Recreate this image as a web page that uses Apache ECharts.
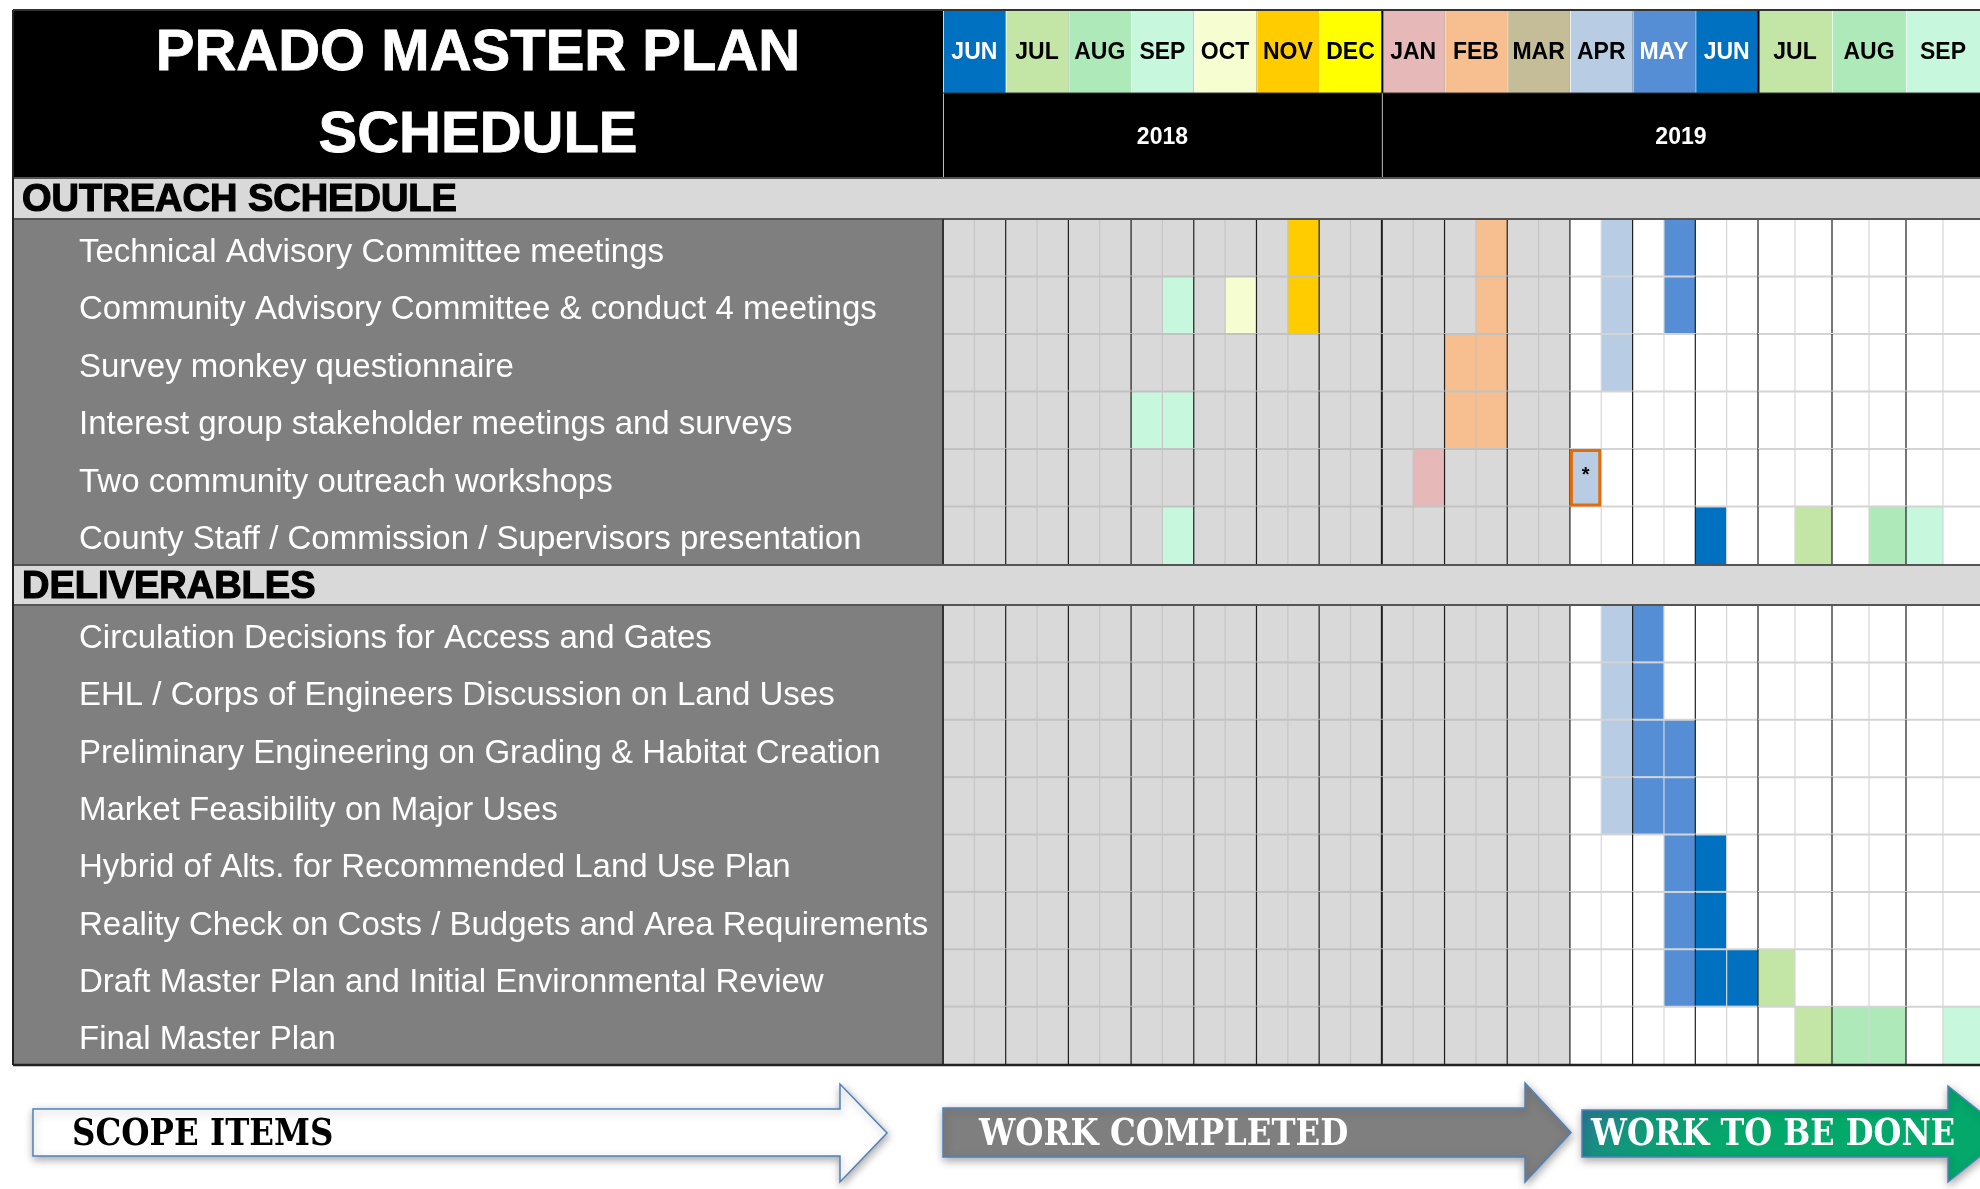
<!DOCTYPE html>
<html><head><meta charset="utf-8">
<script src="https://cdn.jsdelivr.net/npm/echarts@6/dist/echarts.min.js"></script>
<style>html,body{margin:0;padding:0;background:#fff}#c{width:1980px;height:1189px}</style>
</head><body><div id="c"></div>
<script>
// ---------------- DATA ----------------
const titleLines = ['PRADO MASTER PLAN', 'SCHEDULE'];
const months = ['JUN','JUL','AUG','SEP','OCT','NOV','DEC','JAN','FEB','MAR','APR','MAY','JUN','JUL','AUG','SEP'];
const monthYears = [2018,2018,2018,2018,2018,2018,2018,2019,2019,2019,2019,2019,2019,2019,2019,2019];
const years = [2018, 2019];
const sectionNames = ['OUTREACH SCHEDULE', 'DELIVERABLES'];
const outreachTasks = [
  'Technical Advisory Committee meetings',
  'Community Advisory Committee & conduct 4 meetings',
  'Survey monkey questionnaire',
  'Interest group stakeholder meetings and surveys',
  'Two community outreach workshops',
  'County Staff / Commission / Supervisors presentation'
];
const deliverableTasks = [
  'Circulation Decisions for Access and Gates',
  'EHL / Corps of Engineers Discussion on Land Uses',
  'Preliminary Engineering on Grading & Habitat Creation',
  'Market Feasibility on Major Uses',
  'Hybrid of Alts. for Recommended Land Use Plan',
  'Reality Check on Costs / Budgets and Area Requirements',
  'Draft Master Plan and Initial Environmental Review',
  'Final Master Plan'
];
// half-month slots: slot 0 = first half of JUN 2018, slot 1 = second half, ...
const outreachSlots = [
  [11, 17, 21, 23],
  [7, 9, 11, 17, 21, 23],
  [16, 17, 21],
  [6, 7, 16, 17],
  [15, 20],
  [7, 24, 27, 29, 30]
];
const deliverableSlots = [
  [21, 22],
  [21, 22],
  [21, 22, 23],
  [21, 22, 23],
  [23, 24],
  [23, 24],
  [23, 24, 25, 26],
  [27, 28, 29, 31]
];
const markedSection = [0];
const markedRow = [4];
const markedSlot = [20];
const markedText = ['*'];
const completedMonths = 10; // JUN 2018 .. MAR 2019 are completed
const arrowLabels = ['SCOPE ITEMS', 'WORK COMPLETED', 'WORK TO BE DONE'];

// ---------------- STYLE ----------------
const monthColors = ['#0070c0','#c3e5a5','#aeeab9','#c7f7dd','#f6fdd0','#ffcc00','#ffff00',
  '#e6b8b8','#f7bf8f','#c4bd97','#b8cce4','#558ed5','#0070c0','#c3e5a5','#aeeab9','#c7f7dd'];
const monthTextColors = months.map((m, i) => (i === 0 || i === 11 || i === 12) ? '#ffffff' : '#000000');

function hasFont(name) {
  const ctx = document.createElement('canvas').getContext('2d');
  const s = 'abcdefghijklmnopqrstuvwxyz ABCDEFGHIJKLM 0123';
  ctx.font = '40px monospace'; const a = ctx.measureText(s).width;
  ctx.font = "40px '" + name + "', monospace"; const b = ctx.measureText(s).width;
  return Math.abs(a - b) > 0.5;
}
const narrow = hasFont('Liberation Sans Narrow');
const labelFont = narrow ? "'Liberation Sans Narrow'" : "'Liberation Sans', Arial";
const labelSize = narrow ? 39 : 33;
const monthFont = narrow ? "'Liberation Sans Narrow'" : "'Liberation Sans', Arial";
const monthSize = narrow ? 26 : 23;

// ---------------- LAYOUT ----------------
const X0 = 943, XS = 1758, XE = 1980, LX = 13;
const LEFT_MONTHS = 13;
const LEFT_SLOTS = LEFT_MONTHS * 2;
const TOTAL_SLOTS = months.length * 2;
const HEAD_TOP = 10, MONTH_H = 83, HEAD_BOT = 177;
const OUT_TOP = 219, OUT_H = 345, DEL_TOP = 605, DEL_H = 459;
const LABEL_SHIFT = 5;

const slotNames = months.flatMap((m, i) => [m + ' ' + monthYears[i] + ' a', m + ' ' + monthYears[i] + ' b']);

const chart = echarts.init(document.getElementById('c'));

function cellRect(api) {
  const c = api.coord([api.value(0), api.value(1)]);
  const s = api.size([1, 1]);
  return { x: c[0] - s[0] / 2, y: c[1] - s[1] / 2, width: s[0], height: s[1] };
}

const grids = [
  { left: X0, top: HEAD_TOP, width: XS - X0, height: MONTH_H },
  { left: XS, top: HEAD_TOP, width: XE - XS, height: MONTH_H },
  { left: X0, top: OUT_TOP, width: XS - X0, height: OUT_H },
  { left: XS, top: OUT_TOP, width: XE - XS, height: OUT_H },
  { left: X0, top: DEL_TOP, width: XS - X0, height: DEL_H },
  { left: XS, top: DEL_TOP, width: XE - XS, height: DEL_H },
  // label grids (task names)
  { left: X0, top: OUT_TOP + LABEL_SHIFT, width: 10, height: OUT_H },
  { left: X0, top: DEL_TOP + LABEL_SHIFT, width: 10, height: DEL_H }
].map(g => Object.assign({ outerBoundsMode: 'none', containLabel: false }, g));

const xAxes = [
  { data: months.slice(0, LEFT_MONTHS) },
  { data: months.slice(LEFT_MONTHS) },
  { data: slotNames.slice(0, LEFT_SLOTS) },
  { data: slotNames.slice(LEFT_SLOTS) },
  { data: slotNames.slice(0, LEFT_SLOTS) },
  { data: slotNames.slice(LEFT_SLOTS) },
  { data: ['label'] },
  { data: ['label'] }
].map((a, i) => Object.assign({ gridIndex: i, type: 'category', show: false }, a));

const rowAxis = (tasks) => ({ type: 'category', data: tasks, inverse: true, show: false });
const labelAxis = (tasks) => ({
  type: 'category', data: tasks, inverse: true, z: 20,
  axisLine: { show: false }, axisTick: { show: false }, splitLine: { show: false },
  axisLabel: { color: '#ffffff', fontSize: labelSize, fontFamily: labelFont,
    align: 'left', margin: X0 - 79 }
});
const yAxes = [
  { type: 'category', data: ['month'], show: false },
  { type: 'category', data: ['month'], show: false },
  rowAxis(outreachTasks),
  rowAxis(outreachTasks),
  rowAxis(deliverableTasks),
  rowAxis(deliverableTasks),
  labelAxis(outreachTasks),
  labelAxis(deliverableTasks)
].map((a, i) => Object.assign({ gridIndex: i }, a));

const series = [];

// header month cells
[[0, 0, LEFT_MONTHS], [1, LEFT_MONTHS, months.length]].forEach(([gi, from, to]) => {
  const data = [];
  for (let g = from; g < to; g++) data.push([g - from, 0, g]);
  series.push({
    type: 'custom', xAxisIndex: gi, yAxisIndex: gi, z: 5, encode: { x: 0, y: 1 }, data,
    renderItem(params, api) {
      const g = api.value(2); const r = cellRect(api);
      const yearStart = g > 0 && (monthYears[g] !== monthYears[g - 1] || g === LEFT_MONTHS);
      return { type: 'group', children: [
        { type: 'rect', shape: r, style: { fill: monthColors[g] } },
        { type: 'line', shape: { x1: r.x + 0.5, y1: r.y, x2: r.x + 0.5, y2: r.y + r.height },
          style: { stroke: yearStart ? '#000' : 'rgba(255,255,255,0.75)', lineWidth: yearStart ? 2 : 1 } },
        { type: 'text', style: { text: months[g], x: r.x + r.width / 2, y: r.y + r.height / 2 + 1,
          align: 'center', verticalAlign: 'middle', fill: monthTextColors[g],
          font: 'bold ' + monthSize + 'px ' + monthFont } }
      ] };
    }
  });
});

// body cells
function bodySeries(gi, tasks, slotsArr, sectionIdx, from, to) {
  const bg = [], fills = [], marks = [];
  for (let r = 0; r < tasks.length; r++) for (let s = from; s < to; s++) bg.push([s - from, r, s]);
  slotsArr.forEach((arr, r) => arr.forEach(s => { if (s >= from && s < to) fills.push([s - from, r, s]); }));
  markedSection.forEach((sec, k) => {
    if (sec === sectionIdx && markedSlot[k] >= from && markedSlot[k] < to)
      marks.push([markedSlot[k] - from, markedRow[k], markedSlot[k], k]);
  });
  series.push({
    type: 'custom', xAxisIndex: gi, yAxisIndex: gi, z: 3, encode: { x: 0, y: 1 }, data: bg,
    renderItem(params, api) {
      const s = api.value(2); const r = cellRect(api);
      return { type: 'rect', shape: r, style: { fill: Math.floor(s / 2) < completedMonths ? '#d9d9d9' : '#ffffff' } };
    }
  });
  series.push({
    type: 'custom', xAxisIndex: gi, yAxisIndex: gi, z: 4, encode: { x: 0, y: 1 }, data: fills,
    renderItem(params, api) {
      const s = api.value(2); const r = cellRect(api);
      return { type: 'rect', shape: r, style: { fill: monthColors[Math.floor(s / 2)] } };
    }
  });
  series.push({
    type: 'custom', xAxisIndex: gi, yAxisIndex: gi, z: 6, encode: { x: 0, y: 1 }, data: bg,
    renderItem(params, api) {
      const s = api.value(2); const row = api.value(1); const r = cellRect(api);
      const done = Math.floor(s / 2) < completedMonths;
      const ch = [];
      if (row > 0) ch.push({ type: 'line', shape: { x1: r.x, y1: r.y, x2: r.x + r.width, y2: r.y },
        style: { stroke: done ? '#c2c2c2' : '#d4d4d4', lineWidth: 2 } });
      const monthEdge = s % 2 === 0;
      const yearEdge = monthEdge && s > 0 && monthYears[s / 2] !== monthYears[s / 2 - 1];
      ch.push({ type: 'line', shape: { x1: r.x, y1: r.y, x2: r.x, y2: r.y + r.height },
        style: { stroke: monthEdge ? '#1e1e1e' : (done ? '#c4c4c4' : '#d6d6d6'), lineWidth: yearEdge ? 2 : 1.2 } });
      return { type: 'group', children: ch };
    }
  });
  if (marks.length) series.push({
    type: 'custom', xAxisIndex: gi, yAxisIndex: gi, z: 8, encode: { x: 0, y: 1 }, data: marks,
    renderItem(params, api) {
      const s = api.value(2); const k = api.value(3); const r = cellRect(api);
      return { type: 'group', children: [
        { type: 'rect', shape: { x: r.x + 1.5, y: r.y + 1.5, width: r.width - 3, height: r.height - 3 },
          style: { fill: monthColors[Math.floor(s / 2)], stroke: '#e36c0a', lineWidth: 3 } },
        { type: 'text', style: { text: markedText[k], x: r.x + r.width / 2, y: r.y + r.height / 2 - 2,
          align: 'center', verticalAlign: 'middle', fill: '#000', font: 'bold 20px "Liberation Sans", Arial' } }
      ] };
    }
  });
}
bodySeries(2, outreachTasks, outreachSlots, 0, 0, LEFT_SLOTS);
bodySeries(3, outreachTasks, outreachSlots, 0, LEFT_SLOTS, TOTAL_SLOTS);
bodySeries(4, deliverableTasks, deliverableSlots, 1, 0, LEFT_SLOTS);
bodySeries(5, deliverableTasks, deliverableSlots, 1, LEFT_SLOTS, TOTAL_SLOTS);

chart.setOption({
  animation: false,
  backgroundColor: '#ffffff',
  grid: grids, xAxis: xAxes, yAxis: yAxes, series
});

// ---------- decorations (graphic) ----------
function monthEdges(g) {
  const left = g < LEFT_MONTHS;
  const xi = left ? 0 : 1;
  const local = left ? g : g - LEFT_MONTHS;
  const bw = left ? (XS - X0) / LEFT_MONTHS : (XE - XS) / (months.length - LEFT_MONTHS);
  const c = chart.convertToPixel({ xAxisIndex: xi }, local);
  return [c - bw / 2, c + bw / 2];
}
const el = [];
el.push({ type: 'rect', z: 0, shape: { x: LX, y: HEAD_TOP, width: XE - LX, height: HEAD_BOT - HEAD_TOP + 1 }, style: { fill: '#000' } });
[[178, 41], [565, 40]].forEach(([y, h]) => {
  el.push({ type: 'rect', z: 0, shape: { x: LX, y: y, width: XE - LX, height: h }, style: { fill: '#d9d9d9' } });
  el.push({ type: 'line', z: 30, shape: { x1: LX, y1: y, x2: XE, y2: y }, style: { stroke: '#555', lineWidth: 2 } });
  el.push({ type: 'line', z: 30, shape: { x1: LX, y1: y + h, x2: XE, y2: y + h }, style: { stroke: '#555', lineWidth: 2 } });
});
[[OUT_TOP, OUT_H], [DEL_TOP, DEL_H]].forEach(([y, h]) => {
  el.push({ type: 'rect', z: 0, shape: { x: LX, y: y, width: X0 - LX, height: h }, style: { fill: '#7f7f7f' } });
  el.push({ type: 'line', z: 30, shape: { x1: X0, y1: y, x2: X0, y2: y + h }, style: { stroke: '#333', lineWidth: 2 } });
});
el.push({ type: 'line', z: 30, shape: { x1: LX, y1: HEAD_TOP, x2: LX, y2: DEL_TOP + DEL_H + 1 }, style: { stroke: '#222', lineWidth: 2 } });
el.push({ type: 'line', z: 30, shape: { x1: LX, y1: DEL_TOP + DEL_H + 1, x2: XE, y2: DEL_TOP + DEL_H + 1 }, style: { stroke: '#222', lineWidth: 2.5 } });
el.push({ type: 'line', z: 30, shape: { x1: LX, y1: HEAD_TOP, x2: XE, y2: HEAD_TOP }, style: { stroke: '#333', lineWidth: 2 } });
titleLines.forEach((t, i) => {
  el.push({ type: 'text', z: 40, style: { text: t, x: (LX + X0) / 2, y: i === 0 ? 54 : 136, align: 'center', verticalAlign: 'middle',
    fill: '#fff', font: 'bold 58px "Liberation Sans", Arial', stroke: '#fff', lineWidth: 0.8 } });
});
[[200, 0], [587, 1]].forEach(([y, k]) => {
  el.push({ type: 'text', z: 40, style: { text: sectionNames[k], x: 22, y: y + 1, align: 'left', verticalAlign: 'middle',
    fill: '#000', font: 'bold 38px "Liberation Sans", Arial', stroke: '#000', lineWidth: 1.2 } });
});
years.forEach(y => {
  const idx = monthYears.map((v, i) => v === y ? i : -1).filter(i => i >= 0);
  const a = monthEdges(idx[0])[0];
  const b = Math.min(monthEdges(idx[idx.length - 1])[1], XE);
  el.push({ type: 'line', z: 30, shape: { x1: a + 0.5, y1: HEAD_TOP + MONTH_H, x2: a + 0.5, y2: HEAD_BOT }, style: { stroke: '#bdbdbd', lineWidth: 1 } });
  el.push({ type: 'text', z: 40, style: { text: String(y), x: (a + b) / 2, y: (HEAD_TOP + MONTH_H + HEAD_BOT) / 2 + 3,
    align: 'center', verticalAlign: 'middle', fill: '#fff', font: 'bold ' + monthSize + 'px ' + monthFont } });
});
el.push({ type: 'line', z: 30, shape: { x1: X0, y1: HEAD_TOP + MONTH_H, x2: XE, y2: HEAD_TOP + MONTH_H }, style: { stroke: '#333', lineWidth: 1 } });
function arrow(x0, x1, tip, bodyTop, bodyBot, headTop, headBot, fill) {
  const mid = (headTop + headBot) / 2;
  return { type: 'polygon', z: 20, shape: { points: [[x0, bodyTop], [x1, bodyTop], [x1, headTop], [tip, mid], [x1, headBot], [x1, bodyBot], [x0, bodyBot]] },
    style: { fill: fill, stroke: '#4f81bd', lineWidth: 1.5, shadowBlur: 8, shadowOffsetX: 1, shadowOffsetY: 3, shadowColor: 'rgba(0,0,0,0.35)' } };
}
el.push(arrow(33, 840, 887, 1109, 1156, 1084, 1182, '#ffffff'));
el.push(arrow(943, 1525, 1571, 1108, 1157, 1083, 1182, '#7f7f7f'));
el.push(arrow(1582, 1948, 2008, 1110, 1157, 1086, 1182,
  new echarts.graphic.LinearGradient(0, 0, 0.25, 1, [{ offset: 0, color: '#2f6f9e' }, { offset: 0.45, color: '#13957c' }, { offset: 1, color: '#04a86a' }])));
[[72, '#000', 0, 0.877], [979, '#fff', 1, 0.875], [1591, '#fff', 2, 0.865]].forEach(([x, c, k, sx]) => {
  el.push({ type: 'text', z: 40, x: x, y: 1135, scaleX: sx, style: { text: arrowLabels[k], x: 0, y: 0, align: 'left', verticalAlign: 'middle',
    fill: c, font: 'bold 37px "DejaVu Serif", serif' } });
});

chart.setOption({ graphic: { elements: el } });
</script></body></html>
